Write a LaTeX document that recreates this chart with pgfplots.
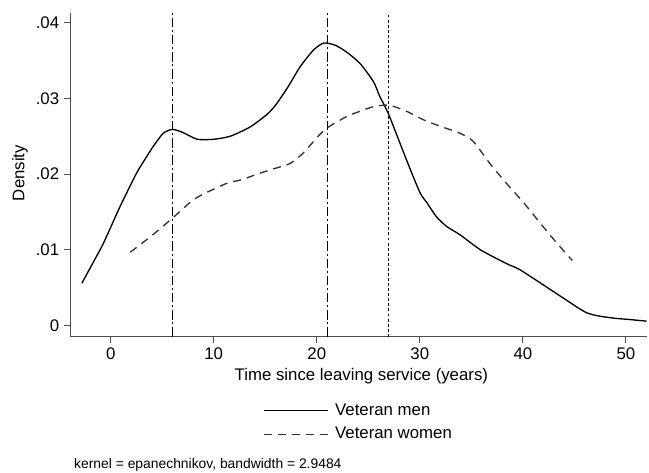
\documentclass[border=0pt]{standalone}
\usepackage{fontspec}
\setmainfont{Liberation Sans}
\usepackage{pgfplots}
\pgfplotsset{compat=1.18}

\begin{document}
\begin{tikzpicture}
\begin{axis}[
    scale only axis,
    width=432pt, height=243pt,
    xmin=-3.9, xmax=52,
    ymin=-0.00145, ymax=0.0413,
    axis lines*=left,
    tick pos=left,
    tick align=outside,
    major tick length=5pt,
    axis line style={black!70, line width=0.9pt},
    tick style={black!70, line width=0.8pt},
    xtick={0,10,20,30,40,50},
    xticklabels={0,10,20,30,40,50},
    ytick={0,0.01,0.02,0.03,0.04},
    yticklabels={0,.01,.02,.03,.04},
    scaled y ticks=false,
    /pgf/number format/assume math mode=true,
    font=\fontsize{12.6}{15}\selectfont,
    xlabel={Time since leaving service (years)},
    ylabel={Density},
    xlabel style={at={(rel axis cs:0.505,-0.121)}, anchor=center},
    ylabel style={at={(rel axis cs:-0.0877,0.505)}, anchor=center},
    clip=false,
    legend style={at={(rel axis cs:0.327,-0.19)}, anchor=north west,
        draw=none, fill=none,
        font=\fontsize{12.6}{15}\selectfont,
        row sep=3.5pt},
    legend cell align=left,
    legend image code/.code={\draw[#1] (0pt,0pt) -- (48pt,0pt); \path (51pt,0pt);},
]
% reference lines
\addplot[forget plot, black, line width=0.8pt, dash pattern=on 7pt off 2.2pt on 1.5pt off 2.2pt]
    coordinates {(6,-0.00145) (6,0.0413)};
\addplot[forget plot, black, line width=0.8pt, dash pattern=on 7pt off 2.2pt on 1.5pt off 2.2pt]
    coordinates {(21,-0.00145) (21,0.0413)};
\addplot[forget plot, black, line width=0.8pt, dash pattern=on 2.2pt off 1.6pt]
    coordinates {(27,-0.00145) (27,0.0413)};
% men
\addplot[black, line width=1pt, smooth, tension=0.4] coordinates {
    (-2.8,0.0056) (-1.8,0.0081) (-0.7,0.0109) (0.9,0.0157) (2.5,0.0201)
    (3.3,0.0219) (4.1,0.0236) (5.1,0.0254) (6,0.0259) (7,0.0255)
    (8.4,0.0246) (10,0.0246) (11.6,0.0250) (13.5,0.0262) (15.1,0.0278)
    (16,0.0291) (17.2,0.0315) (18.4,0.0342) (19.7,0.0364) (20.7,0.0373)
    (21.8,0.0370) (22.9,0.0361) (24.2,0.0346) (25.5,0.0322) (26.1,0.0303)
    (27.0,0.0278) (28.7,0.0219) (30.0,0.0176) (30.7,0.0162) (31.6,0.0144)
    (32.6,0.0131) (33.9,0.0120) (35.9,0.0100) (38.4,0.0082) (39.7,0.0074)
    (42.3,0.0051) (44.2,0.0034) (45.2,0.0025) (46.2,0.0017) (47.3,0.0013)
    (48.8,0.0010) (50.5,0.0008) (52.0,0.0006)
};
\addlegendentry{Veteran men}
% women
\addplot[black!80, line width=1pt, smooth, tension=0.4, dash pattern=on 6pt off 4.5pt] coordinates {
    (1.9,0.0097) (4,0.0119) (6,0.0142) (8,0.0166) (9.5,0.0177)
    (11.3,0.0188) (12.8,0.0193) (14.2,0.0200) (15.8,0.0207) (17.4,0.0214)
    (18.7,0.0228) (20,0.0248) (21.0,0.0261) (22.9,0.0276) (24.2,0.0283)
    (25.5,0.0289) (27,0.0291) (28.7,0.0283) (30.3,0.0272) (32.0,0.0263)
    (33.9,0.0254) (35.2,0.0243) (36.8,0.0214) (38.4,0.0188) (40.1,0.0162)
    (41.7,0.0135) (43.3,0.0109) (44.8,0.0086)
};
\addlegendentry{Veteran women}
\node[anchor=west, font=\fontsize{10.4}{12}\selectfont, inner sep=0pt]
    at (rel axis cs:0.006,-0.396) {kernel = epanechnikov, bandwidth = 2.9484};
% page extent
\path (rel axis cs:-0.1224,-0.4176) rectangle (rel axis cs:1.0043,1.0392);
\end{axis}
\end{tikzpicture}
\end{document}
